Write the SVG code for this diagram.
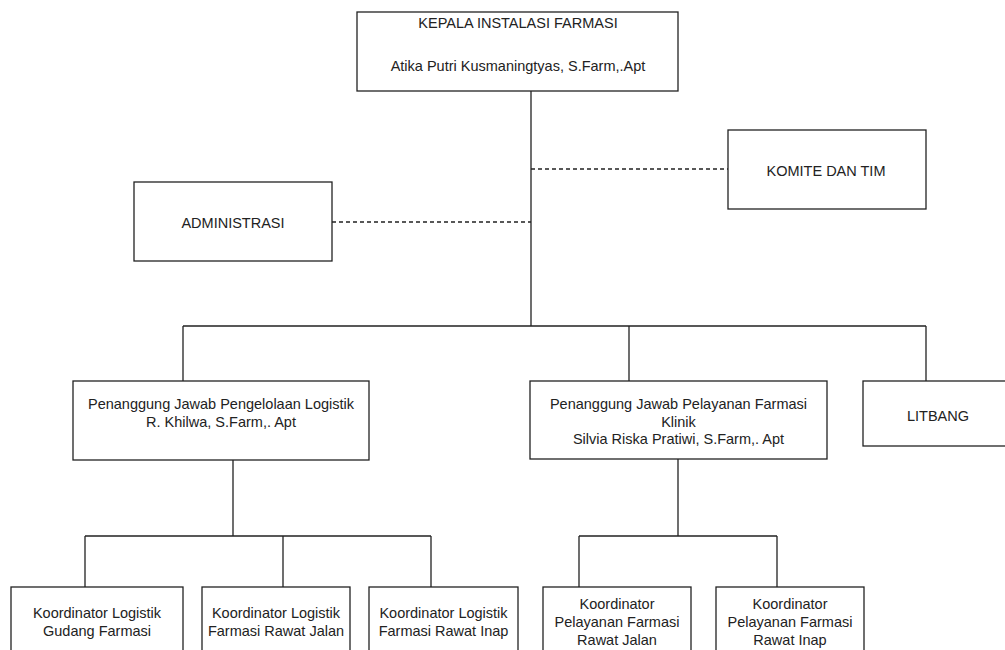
<svg xmlns="http://www.w3.org/2000/svg" width="1005" height="650" viewBox="0 0 1005 650">
<style>
.box{fill:#fff;stroke:#222;stroke-width:1.3}
.t{font-family:"Liberation Sans",Arial,sans-serif;font-size:14.5px;fill:#222;text-anchor:middle}
.ln{fill:none;stroke:#222;stroke-width:1.3}
.dash{fill:none;stroke:#222;stroke-width:1.3;stroke-dasharray:4 3}
</style>
<rect width="1005" height="650" fill="#fff"/>
<g id="connectors">
<path class="ln" d="M531 91V326M183 326H926M183 326V381M629 326V381M926 326V381"/>
<path class="dash" d="M531 169H728M332 222H531"/>
<path class="ln" d="M233 460V536M85 536H431M85 536V587M283 536V587M431 536V587"/>
<path class="ln" d="M678 459V536M579 536H777M579 536V587M777 536V587"/>
</g>
<g id="kepala">
<rect class="box" x="357" y="12" width="321" height="79"/>
<text class="t" x="518" y="28">KEPALA INSTALASI FARMASI</text>
<text class="t" x="518" y="70.5">Atika Putri Kusmaningtyas, S.Farm,.Apt</text>
</g>
<g id="administrasi">
<rect class="box" x="134" y="182" width="198" height="79"/>
<text class="t" x="233" y="228">ADMINISTRASI</text>
</g>
<g id="komite">
<rect class="box" x="728" y="130" width="198" height="79"/>
<text class="t" x="826" y="176">KOMITE DAN TIM</text>
</g>
<g id="pj-logistik">
<rect class="box" x="73" y="381" width="296" height="79"/>
<text class="t" x="221" y="408.5">Penanggung Jawab Pengelolaan Logistik</text>
<text class="t" x="221" y="426.5">R. Khilwa, S.Farm,. Apt</text>
</g>
<g id="pj-pelayanan">
<rect class="box" x="530" y="381" width="297" height="78"/>
<text class="t" x="678.5" y="409">Penanggung Jawab Pelayanan Farmasi</text>
<text class="t" x="678.5" y="426.5">Klinik</text>
<text class="t" x="678.5" y="444">Silvia Riska Pratiwi, S.Farm,. Apt</text>
</g>
<g id="litbang">
<rect class="box" x="863" y="381" width="160" height="65"/>
<text class="t" x="938" y="420.5">LITBANG</text>
</g>
<g id="k-gudang">
<rect class="box" x="11" y="587" width="172" height="80"/>
<text class="t" x="97" y="618">Koordinator Logistik</text>
<text class="t" x="97" y="636">Gudang Farmasi</text>
</g>
<g id="k-rawat-jalan">
<rect class="box" x="202" y="587" width="148" height="80"/>
<text class="t" x="276" y="618">Koordinator Logistik</text>
<text class="t" x="276" y="636">Farmasi Rawat Jalan</text>
</g>
<g id="k-rawat-inap">
<rect class="box" x="369" y="587" width="149" height="80"/>
<text class="t" x="443.5" y="618">Koordinator Logistik</text>
<text class="t" x="443.5" y="636">Farmasi Rawat Inap</text>
</g>
<g id="kp-rawat-jalan">
<rect class="box" x="543" y="587" width="148" height="80"/>
<text class="t" x="617" y="608.5">Koordinator</text>
<text class="t" x="617" y="627">Pelayanan Farmasi</text>
<text class="t" x="617" y="645">Rawat Jalan</text>
</g>
<g id="kp-rawat-inap">
<rect class="box" x="716" y="587" width="148" height="80"/>
<text class="t" x="790" y="608.5">Koordinator</text>
<text class="t" x="790" y="627">Pelayanan Farmasi</text>
<text class="t" x="790" y="645">Rawat Inap</text>
</g>
</svg>
